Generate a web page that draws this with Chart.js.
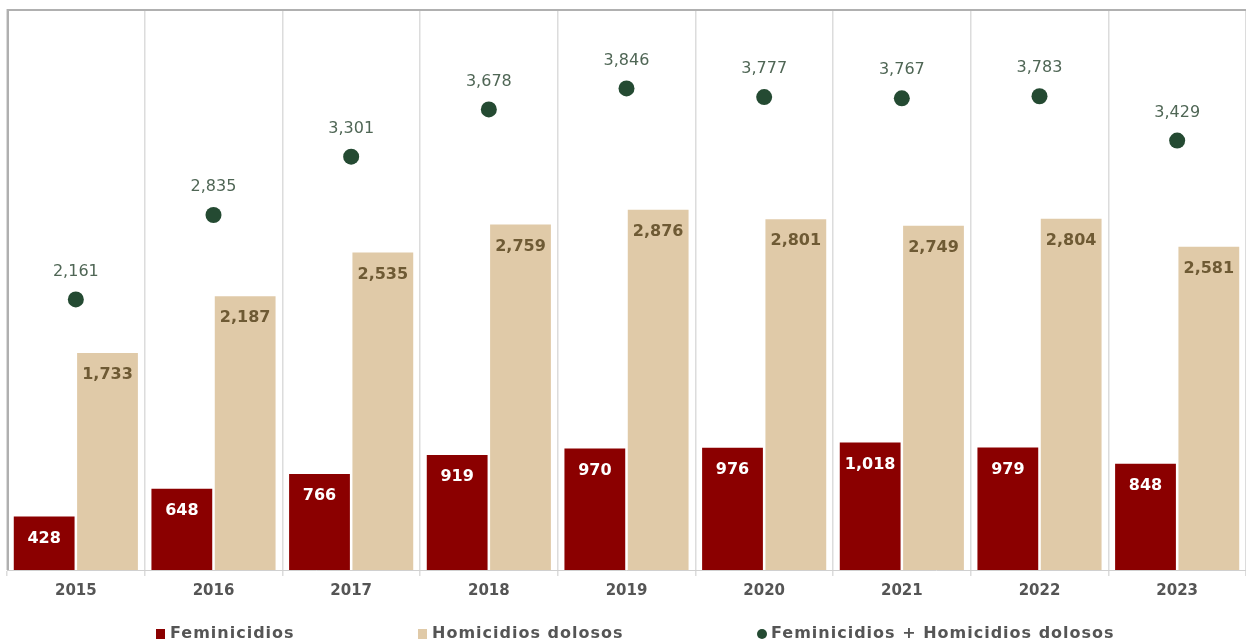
<!DOCTYPE html>
<html>
  <head>
    <meta charset="utf-8" />
    <title>Feminicidios y homicidios dolosos</title>
    <script src="https://cdn.jsdelivr.net/npm/chart.js"></script>
    <style>
      html, body { margin: 0; padding: 0; background: #fff; overflow: hidden; }
      #wrap { width: 1246px; height: 642px; }
      canvas { display: block; }
    </style>
  </head>
  <body>
    <div id="wrap"><canvas id="grafica"></canvas></div>

    <script>
      // Datos
      var anios = ["2015", "2016", "2017", "2018", "2019", "2020", "2021", "2022", "2023"];
      var feminicidios = [428, 648, 766, 919, 970, 976, 1018, 979, 848];
      var homicidios = [1733, 2187, 2535, 2759, 2876, 2801, 2749, 2804, 2581];
      var suma = [2161, 2835, 3301, 3678, 3846, 3777, 3767, 3783, 3429];

      var fuente = "'DejaVu Sans', sans-serif";
      var fmt = function (v) { return v.toLocaleString("en-US"); };

      // Etiquetas de valores, marco del área y leyenda
      var etiquetas = {
        id: "etiquetas",
        beforeDatasetsDraw: function (chart) {
          var ctx = chart.ctx, a = chart.chartArea;
          ctx.save();
          ctx.strokeStyle = "#b0b0b0";
          ctx.lineWidth = 2;
          ctx.beginPath();
          ctx.moveTo(a.left + 1, a.bottom);
          ctx.lineTo(a.left + 1, a.top + 1);
          ctx.lineTo(a.right, a.top + 1);
          ctx.stroke();
          ctx.restore();
        },
        afterDatasetsDraw: function (chart) {
          var ctx = chart.ctx;
          ctx.save();
          ctx.textAlign = "center";
          ctx.textBaseline = "middle";
          chart.data.datasets.forEach(function (ds, i) {
            var meta = chart.getDatasetMeta(i);
            meta.data.forEach(function (el, j) {
              var v = ds.data[j];
              if (i === 2) {
                ctx.font = "16px " + fuente;
                ctx.fillStyle = "#4f6655";
                ctx.fillText(fmt(v), el.x, el.y - 28);
              } else {
                ctx.font = "bold 16px " + fuente;
                ctx.fillStyle = i === 0 ? "#ffffff" : "#6e5a34";
                ctx.fillText(fmt(v), el.x, el.y + 22);
              }
            });
          });

          // leyenda
          var items = [
            { x: 156, tipo: "rect", color: "#8b0000", texto: chart.data.datasets[0].label },
            { x: 418, tipo: "rect", color: "#e0caa8", texto: chart.data.datasets[1].label },
            { x: 757, tipo: "circle", color: "#244a32", texto: chart.data.datasets[2].label },
          ];
          var ly = 634;
          ctx.textAlign = "left";
          ctx.font = "bold 16px " + fuente;
          ctx.letterSpacing = "1px";
          items.forEach(function (it) {
            ctx.fillStyle = it.color;
            if (it.tipo === "rect") {
              ctx.fillRect(it.x, ly - 5, 9, 10);
            } else {
              ctx.beginPath();
              ctx.arc(it.x + 5, ly, 5, 0, Math.PI * 2);
              ctx.fill();
            }
            ctx.fillStyle = "#555555";
            ctx.fillText(it.texto, it.x + 14, ly);
          });
          ctx.restore();
        },
      };

      var ctx = document.getElementById("grafica").getContext("2d");
      new Chart(ctx, {
        type: "bar",
        data: {
          labels: anios,
          datasets: [
            {
              label: "Feminicidios",
              data: feminicidios,
              backgroundColor: "#8b0000",
              categoryPercentage: 0.92,
              barPercentage: 0.96,
              order: 2,
            },
            {
              label: "Homicidios dolosos",
              data: homicidios,
              backgroundColor: "#e0caa8",
              categoryPercentage: 0.92,
              barPercentage: 0.96,
              order: 2,
            },
            {
              type: "line",
              label: "Feminicidios + Homicidios dolosos",
              data: suma,
              showLine: false,
              pointStyle: "circle",
              pointRadius: 8,
              pointHoverRadius: 8,
              backgroundColor: "#244a32",
              borderColor: "#244a32",
              borderWidth: 0,
              order: 1,
            },
          ],
        },
        options: {
          responsive: true,
          maintainAspectRatio: false,
          animation: false,
          layout: { autoPadding: false, padding: { left: 7, top: 9, right: 0, bottom: 36 } },
          scales: {
            x: {
              grid: {
                offset: true,
                color: "#dcdcdc",
                lineWidth: 1.5,
                tickLength: 6,
              },
              border: { color: "#d0d0d0" },
              ticks: {
                color: "#555555",
                font: { family: fuente, size: 15, weight: "bold" },
                padding: 6,
              },
            },
            y: {
              display: false,
              min: 0,
              max: 4480,
            },
          },
          plugins: {
            legend: { display: false },
            tooltip: { enabled: false },
          },
        },
        plugins: [etiquetas],
      });
    </script>
  </body>
</html>
